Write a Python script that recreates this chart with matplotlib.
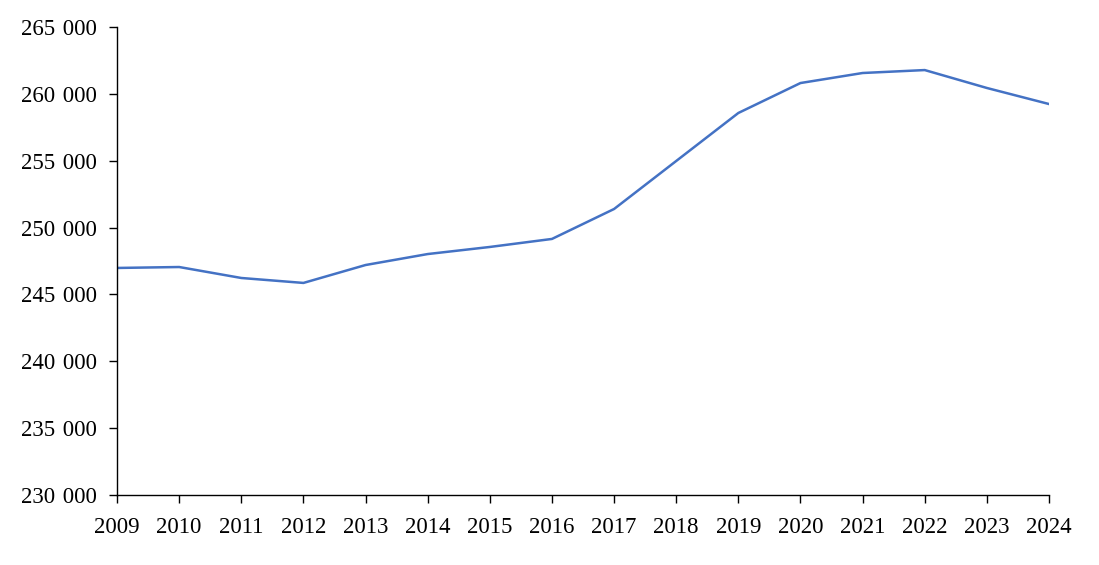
import numpy as np
import matplotlib
matplotlib.use("Agg")
import matplotlib.pyplot as plt
from matplotlib.ticker import FuncFormatter

years = list(range(2009, 2025))
values = [246980, 247050, 246230, 245860, 247200, 248020, 248550, 249150,
          251390, 254980, 258570, 260810, 261560, 261780, 260440, 259240]

plt.rcParams['font.family'] = ['Liberation Serif', 'DejaVu Serif']

fig = plt.figure(figsize=(10.99, 5.65), dpi=100)
ax = fig.add_axes([0.1065, 0.1239, 0.848, 0.8283])

ax.plot(years, values, color='#4472C4', linewidth=1.8)

ax.set_xlim(2009, 2024)
ax.set_ylim(230000, 265000)
ax.set_xticks(years)
ax.set_yticks(np.arange(230000, 265001, 5000))
# thousands separated by a slightly wide space, as in the source
ax.yaxis.set_major_formatter(FuncFormatter(lambda v, p: f"{int(v):,}".replace(",", " \u200a")))

ax.spines['top'].set_visible(False)
ax.spines['right'].set_visible(False)
for s in ('left', 'bottom'):
    ax.spines[s].set_linewidth(1.0)
ax.tick_params(axis='both', direction='out', length=5.5, width=1.0, labelsize=16.5)
ax.tick_params(axis='x', pad=10)
ax.tick_params(axis='y', pad=9)

fig.savefig("out.png", dpi=100)
